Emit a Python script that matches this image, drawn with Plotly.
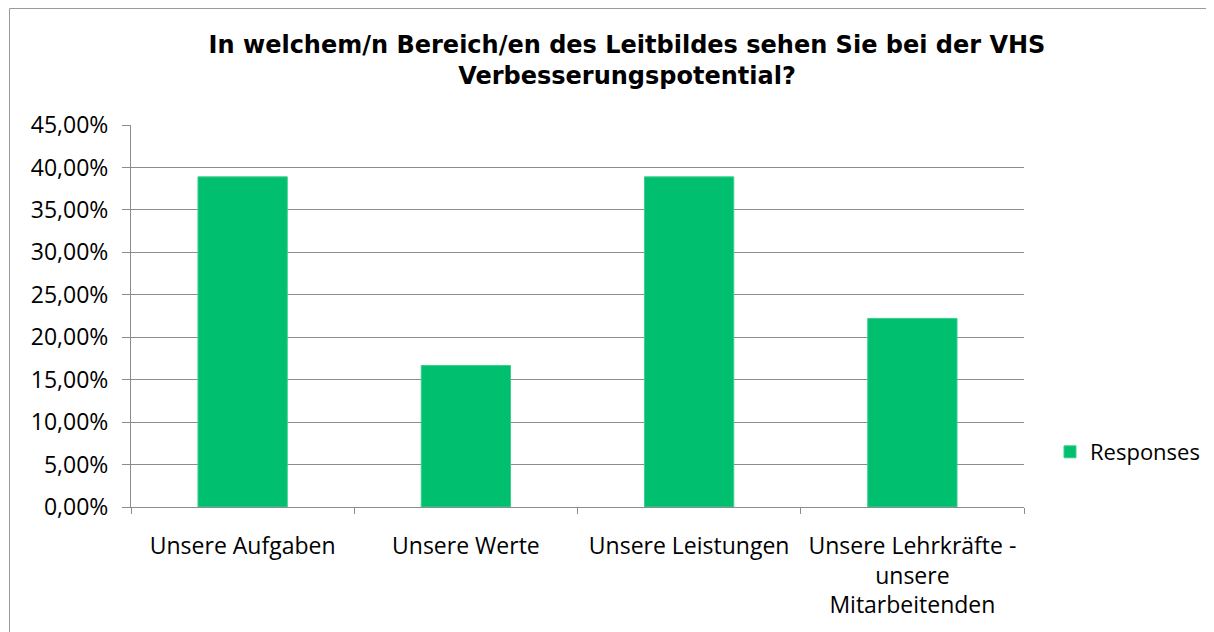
import plotly.graph_objects as go

categories = ["Unsere Aufgaben", "Unsere Werte", "Unsere Leistungen",
              "Unsere Lehrkräfte -<br>unsere<br>Mitarbeitenden"]
values = [0.3889, 0.1667, 0.3889, 0.2222]
series_name = "Responses"
y_ticks = [0, 0.05, 0.10, 0.15, 0.20, 0.25, 0.30, 0.35, 0.40, 0.45]
y_tick_labels = ["0,00%", "5,00%", "10,00%", "15,00%", "20,00%", "25,00%",
                 "30,00%", "35,00%", "40,00%", "45,00%"]
title_text = "In welchem/n Bereich/en des Leitbildes sehen Sie bei der VHS<br>Verbesserungspotential?"

# page body has an 8px margin, so the figure is sized/offset accordingly
W, H = 1206, 624
L, R, T, B = 123, 190, 117, 125

fig = go.Figure()
fig.add_trace(go.Bar(
    x=categories, y=values, name=series_name,
    marker=dict(color="#00BF6F", line=dict(color="#3ccf8a", width=1)),
    width=0.4, showlegend=True,
))

pw = W - L - R
ph = H - T - B
# outer chart border (in paper coordinates)
fig.add_shape(type="rect", xref="paper", yref="paper",
              x0=(1.5 - L) / pw, x1=(W + 10 - L) / pw,
              y0=(H - B - (H + 10)) / ph, y1=(H - B - 0.5) / ph,
              line=dict(color="#9a9a9a", width=1), fillcolor="rgba(0,0,0,0)",
              layer="below")

fig.update_layout(
    width=W, height=H,
    margin=dict(l=L, r=R, t=T, b=B, autoexpand=False),
    paper_bgcolor="white", plot_bgcolor="white",
    title=dict(text=title_text, x=619 / W, xanchor="center",
               y=1 - 45 / H, yanchor="top", xref="container", yref="container",
               font=dict(family="DejaVu Sans", size=24, color="#000000",
                         weight="bold")),
    font=dict(family="Open Sans", size=23, color="#000000"),
    legend=dict(x=1042 / W, xref="container", y=1 - 444 / H, yref="container",
                yanchor="middle", xanchor="left",
                font=dict(family="Open Sans", size=22, color="#000000"),
                bgcolor="rgba(0,0,0,0)"),
    bargap=0.6,
)
fig.update_yaxes(
    range=[0, 0.45], tickvals=y_ticks, ticktext=y_tick_labels,
    showgrid=True, gridcolor="#8c8c8c", gridwidth=1,
    showline=True, linecolor="#8c8c8c", linewidth=1,
    ticks="outside", ticklen=8, tickcolor="#8c8c8c",
    ticklabelstandoff=9, zeroline=False,
    tickfont=dict(family="Open Sans", size=23, color="#000000"),
)
fig.update_xaxes(
    showline=True, linecolor="#8c8c8c", linewidth=1,
    ticks="outside", ticklen=6, tickcolor="#8c8c8c", tickson="boundaries",
    ticklabelstandoff=18,
    tickfont=dict(family="Open Sans", size=23, color="#000000"),
)

fig.write_html("out.html")
